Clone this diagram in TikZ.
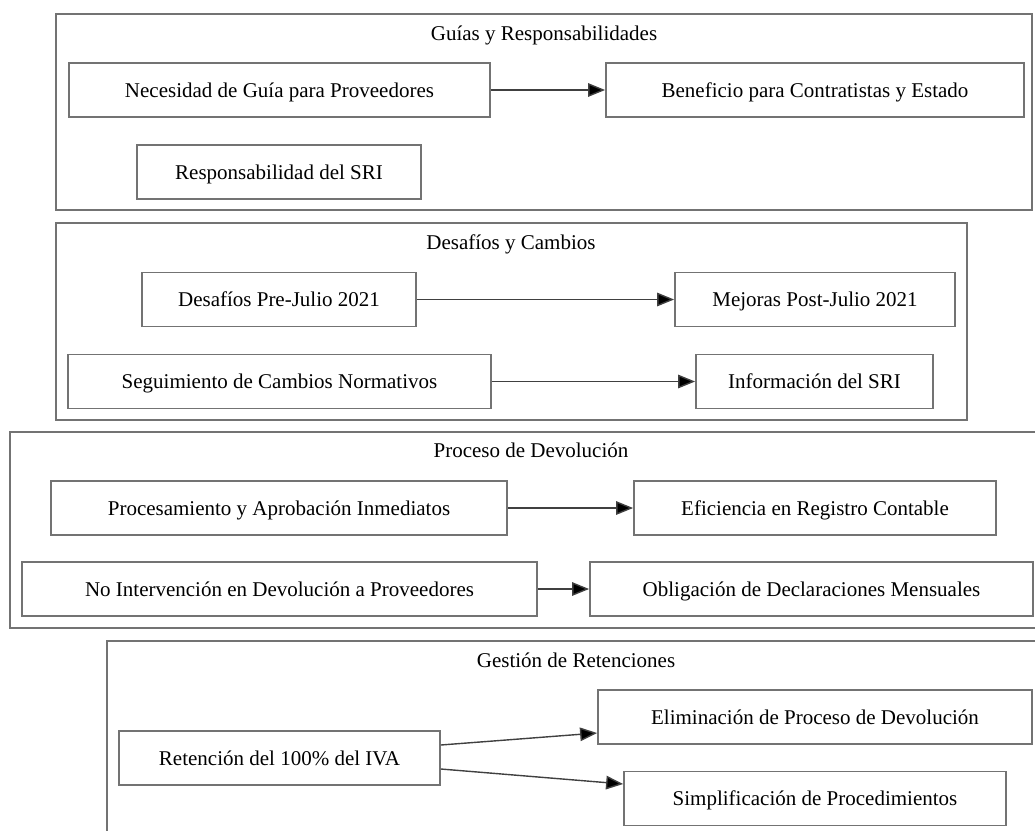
\documentclass[tikz,border=0pt]{standalone}
\usepackage{fontspec}
\setmainfont{Liberation Serif}
\usetikzlibrary{arrows.meta}
\definecolor{linegray}{gray}{0.45}
\definecolor{edgegray}{gray}{0.25}
\tikzset{
  box/.style={draw=linegray, line width=1.8pt, fill=white, minimum height=54pt, inner sep=0pt, text height=16.5pt, text depth=2pt, anchor=center, font=\fontsize{21}{24}\selectfont},
  cluster/.style={draw=linegray, line width=1.8pt},
  ctitle/.style={inner sep=0pt, text height=16.5pt, text depth=2pt, anchor=center, font=\fontsize{21}{24}\selectfont},
  link/.style={draw=edgegray, line width=1.4pt, -{Triangle[length=17pt,width=13.5pt,fill=black]}}
}
\begin{document}
\begin{tikzpicture}[x=1pt,y=-1pt]
\useasboundingbox (0,0) rectangle (1035,830);
\begin{scope}
\clip (0,0) rectangle (1035,830);
% clusters
\draw[cluster] (56,14) rectangle (1032,210);
\node[ctitle] (t1) at (544,33) {Guías y Responsabilidades};
\draw[cluster] (56,223) rectangle (967,420);
\node[ctitle] (t2) at (511,242) {Desafíos y Cambios};
\draw[cluster] (10,432) rectangle (1052,628);
\node[ctitle] (t3) at (531,450) {Proceso de Devolución};
\draw[cluster] (107,641) rectangle (1045,850);
\node[ctitle] (t4) at (576,660) {Gestión de Retenciones};
% nodes
\node[box, minimum width=421pt] (nec) at (279.5,90) {Necesidad de Guía para Proveedores};
\node[box, minimum width=418pt] (ben) at (815,90) {Beneficio para Contratistas y Estado};
\node[box, minimum width=284pt] (resp) at (279,172) {Responsabilidad del SRI};
\node[box, minimum width=274pt] (des) at (279,299.5) {Desafíos Pre-Julio 2021};
\node[box, minimum width=280pt] (mej) at (815,299.5) {Mejoras Post-Julio 2021};
\node[box, minimum width=423pt] (seg) at (279.5,381.5) {Seguimiento de Cambios Normativos};
\node[box, minimum width=237pt] (inf) at (814.5,381.5) {Información del SRI};
\node[box, minimum width=456pt] (proc) at (279,508) {Procesamiento y Aprobación Inmediatos};
\node[box, minimum width=362pt] (efi) at (815,508) {Eficiencia en Registro Contable};
\node[box, minimum width=515pt] (noint) at (279.5,589) {No Intervención en Devolución a Proveedores};
\node[box, minimum width=443pt] (obl) at (811.5,589) {Obligación de Declaraciones Mensuales};
\node[box, minimum width=321pt] (ret) at (279.5,758) {Retención del 100\% del IVA};
\node[box, minimum width=434pt] (elim) at (815,717) {Eliminación de Proceso de Devolución};
\node[box, minimum width=382pt] (simp) at (815,798.5) {Simplificación de Procedimientos};
% edges
\draw[link] (nec) -- (ben);
\draw[link] (des) -- (mej);
\draw[link] (seg) -- (inf);
\draw[link] (proc) -- (efi);
\draw[link] (noint) -- (obl);
\draw[link] ([yshift=13pt]ret.east) -- ([yshift=-16pt]elim.west);
\draw[link] ([yshift=-11pt]ret.east) -- ([yshift=14.5pt]simp.west);
\end{scope}
\end{tikzpicture}
\end{document}
